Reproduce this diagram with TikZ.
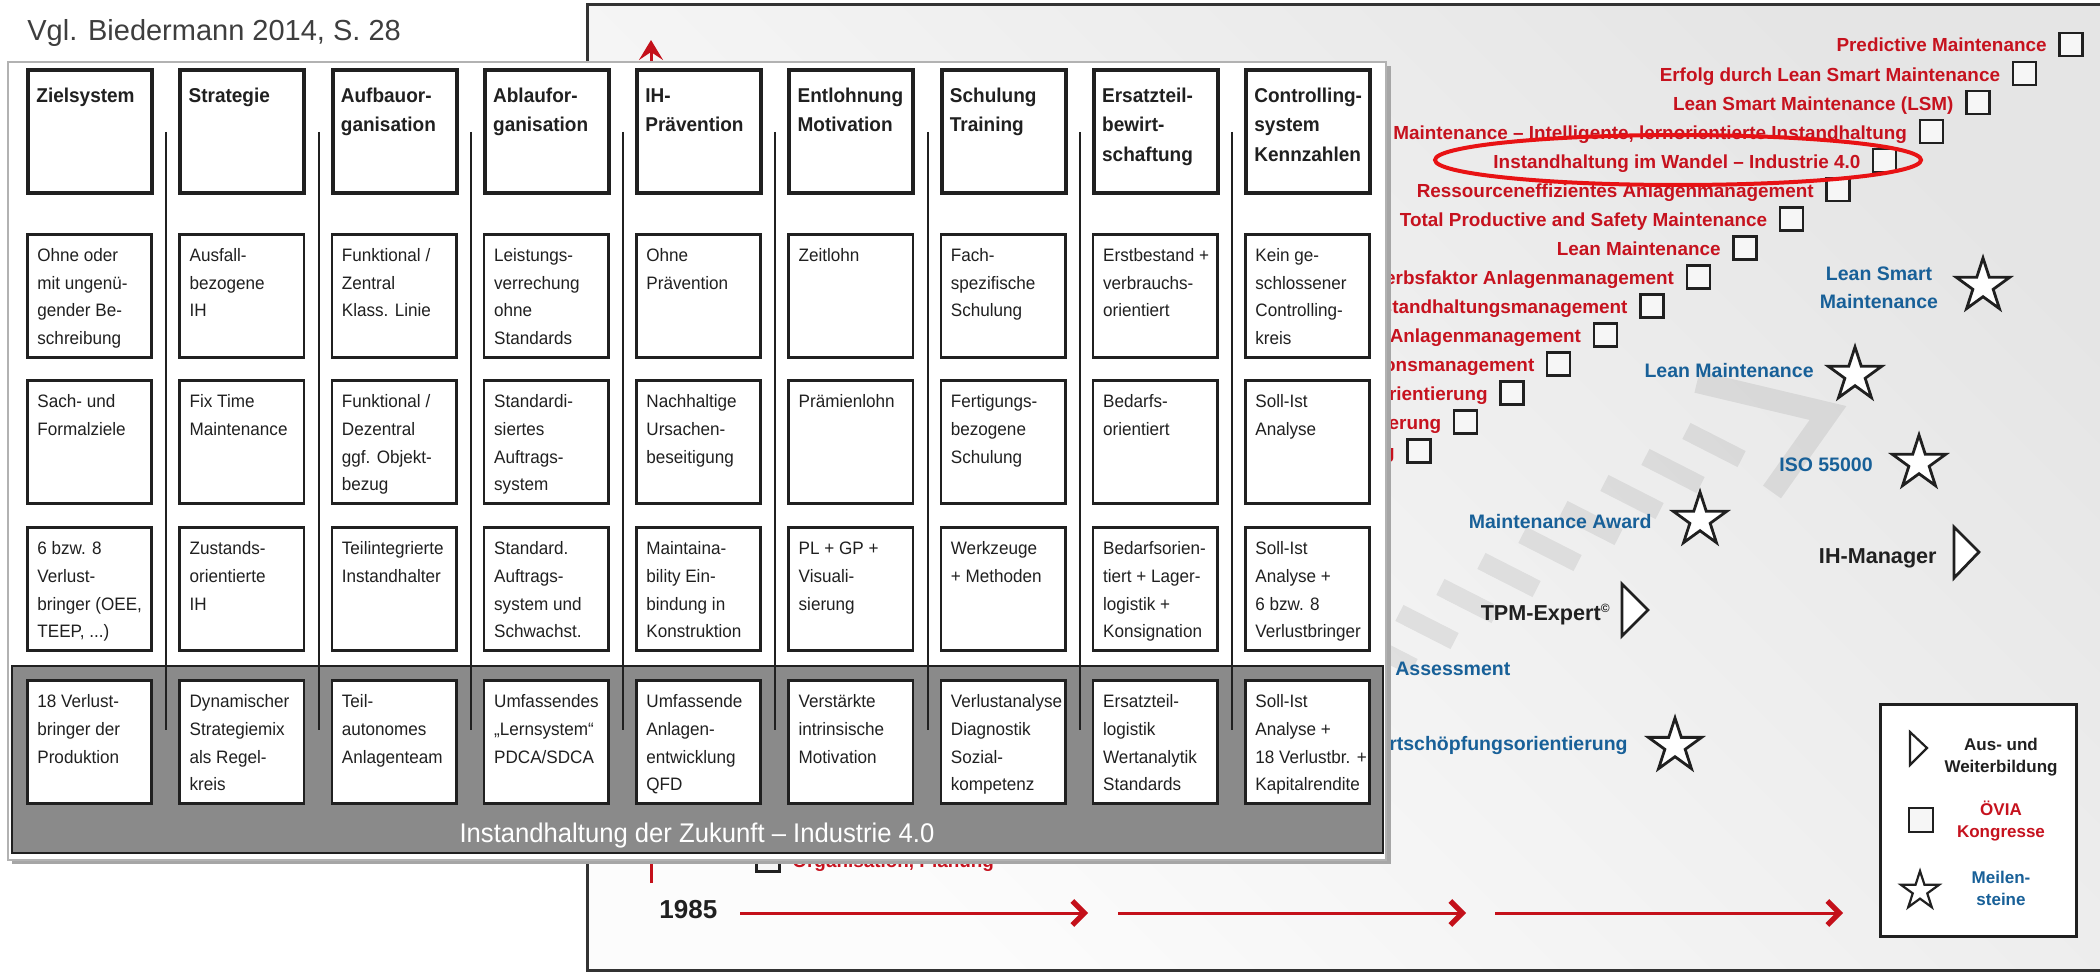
\documentclass[tikz,border=0pt]{standalone}
\usepackage{fontspec}
\setmainfont{Liberation Sans}
\newfontfamily\tabfont[FakeStretch=0.95]{Liberation Sans}
\usetikzlibrary{shapes.geometric,arrows.meta}

\definecolor{ink}{RGB}{32,32,32}
\definecolor{evred}{RGB}{198,18,30}
\definecolor{msblue}{RGB}{24,96,152}
\definecolor{ringred}{RGB}{232,18,20}
\definecolor{axisred}{RGB}{196,16,26}
\definecolor{bandgray}{RGB}{138,138,138}
\definecolor{notegray}{RGB}{62,62,62}

\tikzset{
  hbox/.style={draw=ink, line width=2pt, fill=white, minimum width=62pt, minimum height=61.5pt, inner sep=0pt, anchor=north west},
  bbox/.style={draw=ink, line width=1.3pt, fill=white, minimum width=62.2pt, minimum height=61.7pt, inner sep=0pt, anchor=north west},
  htext/.style={anchor=north west, inner sep=0pt, align=left, text=ink, font=\tabfont\bfseries\fontsize{10}{14.75}\selectfont},
  btext/.style={anchor=north west, inner sep=0pt, align=left, text=ink, font=\tabfont\fontsize{9}{13.9}\selectfont},
  evtext/.style={anchor=base east, inner sep=0pt, text=evred, font=\bfseries\fontsize{9.45}{11}\selectfont},
  congress/.style={draw=ink, line width=1.25pt, fill=gray!7, minimum size=11.5pt, inner sep=0pt},
  mstext/.style={inner sep=0pt, text=msblue, font=\bfseries\fontsize{9.75}{14}\selectfont},
  edtext/.style={inner sep=0pt, text=ink, font=\bfseries\fontsize{10.8}{13}\selectfont},
  milestone/.style={star, star points=5, star point ratio=2.618, draw=ink, line width=1.4pt, fill=white, minimum size=28pt, inner sep=0pt},
  course/.style={draw=ink, line width=1.4pt, fill=white, line join=miter},
  lgtext/.style={anchor=north, inner sep=0pt, align=center, font=\bfseries\fontsize{8.5}{11}\selectfont},
  timearrow/.style={axisred, line width=1.5pt, -{Straight Barb[length=6pt,width=12pt,line width=2.6pt]}},
  wmstripe/.style={rectangle, fill=black, opacity=0.075, minimum width=31pt, minimum height=9pt, inner sep=0pt, rotate=-27},
}

% one column head and one body cell of the maintenance matrix
\newcommand\hcell[2]{%
  \node[hbox] (hb#1) at ({26+152.25*(#1-1)},68) {};
  \node[htext] (ht#1) at ({36+152.25*(#1-1)},86) {\rule{0pt}{8pt}#2};
}
\newcommand\bcell[4]{% column, row, top edge, text
  \node[bbox] (c#1r#2) at ({26+152.25*(#1-1)},#3) {};
  \node[btext] (t#1r#2) at ({37+152.25*(#1-1)},{#3+13}) {\rule{0pt}{7.5pt}#4};
}

\begin{document}
\begin{tikzpicture}[x=0.5pt,y=-0.5pt]
\useasboundingbox (0,0) rectangle (2100,973);
\fill[white] (0,0) rectangle (2100,973);

% ---------------- timeline panel ----------------
\shade[top color=gray!20, bottom color=gray!2, shading angle=-45] (587,5) rectangle (2106,970);

% faint striped arrow in the background
\foreach \k in {-1,...,7}
  \node[wmstripe] (wm\k) at ({1427+41*\k},{627-26*\k}) {};
\draw[black, opacity=0.075, line width=11pt, line join=miter] (1697,382) -- (1828,413) -- (1772,492);

% vertical time axis
\coordinate (ax0) at (651,883);
\coordinate (ax1) at (651,40);
\draw[axisred, line width=1.5pt, -{Stealth[length=10pt,width=12pt,inset=4pt]}] (ax0) -- (ax1);

% congresses (staircase)
\foreach \i/\txt in {0/Predictive Maintenance,
  1/Erfolg durch Lean Smart Maintenance,
  2/Lean Smart Maintenance (LSM),
  3/{Maintenance – Intelligente, lernorientierte Instandhaltung},
  4/Instandhaltung im Wandel – Industrie 4.0,
  5/Ressourceneffizientes Anlagenmanagement,
  6/Total Productive and Safety Maintenance,
  7/Lean Maintenance,
  8/erbsfaktor Anlagenmanagement,
  9/standhaltungsmanagement,
  10/Anlagenmanagement,
  11/onsmanagement,
  12/rientierung,
  13/erung,
  14/g}{
  \pgfmathsetmacro\sx{2059-46.57*\i}
  \pgfmathsetmacro\sy{33+29.05*\i}
  \node[congress] (sq\i) at (\sx+12,\sy+11.5) {};
  \node[evtext] (ev\i) at (\sx-12,\sy+19) {\txt};
}
\node[congress] (sq28) at (768,860) {};
\node[evtext, anchor=base west] (ev28) at (792,867) {Organisation, Planung};

% highlighted congress
\draw[ringred, line width=2pt] (1678,160) ellipse [x radius=243, y radius=25];

% milestones
\node[mstext, align=center, anchor=north] (ms1) at (1879,264) {\rule{0pt}{8pt}Lean Smart\\Maintenance};
\node[milestone] (st1) at (1983,286) {};
\node[mstext, anchor=base east] (ms2) at (1814,378) {Lean Maintenance};
\node[milestone] (st2) at (1855,375) {};
\node[mstext, anchor=base east] (ms3) at (1873,471) {ISO 55000};
\node[milestone] (st3) at (1919,463) {};
\node[mstext, anchor=base east] (ms4) at (1652,528) {Maintenance Award};
\node[milestone] (st4) at (1700,520) {};
\node[mstext, anchor=base west] (ms5) at (1395,675) {Assessment};
\node[mstext, anchor=base east] (ms6) at (1628,750) {ertschöpfungsorientierung};
\node[milestone] (st6) at (1675,746) {};

% education
\node[edtext, anchor=base east] (ed1) at (1937,563) {IH-Manager};
\draw[course] (1954,527) -- (1979,552) -- (1954,578) -- cycle;
\node[edtext, anchor=base east] (ed2) at (1611,620) {TPM-Expert\textsuperscript{\fontsize{6}{6}\selectfont ©}};
\draw[course] (1622,584) -- (1648,610) -- (1622,636) -- cycle;

% years
\coordinate (t1s) at (740,913);  \coordinate (t1e) at (1088,913);
\coordinate (t2s) at (1118,913); \coordinate (t2e) at (1466,913);
\coordinate (t3s) at (1495,913); \coordinate (t3e) at (1843,913);
\draw[timearrow] (t1s) -- (t1e);
\draw[timearrow] (t2s) -- (t2e);
\draw[timearrow] (t3s) -- (t3e);
\node[anchor=base west, inner sep=0pt, text=ink, font=\bfseries\fontsize{13}{15}\selectfont] (y1985) at (659,918) {1985};

% legend
\node[draw=ink, line width=1.5pt, fill=white, anchor=north west, minimum width=98pt, minimum height=116pt, inner sep=0pt] (legend) at (1879,703) {};
\draw[ink, line width=1.1pt, fill=white, line join=miter] (1910,732) -- (1927,748) -- (1910,765) -- cycle;
\node[lgtext, text=ink] (lg1) at (2001,734) {\rule{0pt}{8pt}Aus- und\\Weiterbildung};
\node[congress, minimum size=12pt] (lgsq) at (1921,820) {};
\node[lgtext, text=evred] (lg2) at (2001,799) {\rule{0pt}{8pt}ÖVIA\\Kongresse};
\node[milestone, minimum size=20pt, line width=1.1pt] (lgst) at (1920,891) {};
\node[lgtext, text=msblue] (lg3) at (2001,867) {\rule{0pt}{8pt}Meilen-\\steine};

\draw[black!80, line width=1.5pt] (587,5) rectangle (2106,970);

% ---------------- maintenance matrix ----------------
\fill[black!35] (12,66) rectangle (1391,864);
\filldraw[fill=white, draw=black!30, line width=0.8pt] (8,62) rectangle (1386,860);
\filldraw[fill=bandgray, draw=ink, line width=1.2pt] (12,666) rectangle (1383,853);
\foreach \k in {2,...,9}
  \draw[ink, line width=1pt] ({14+152.25*(\k-1)},132) -- ({14+152.25*(\k-1)},730);

\hcell{1}{Zielsystem}
\hcell{2}{Strategie}
\hcell{3}{Aufbauor-\\ganisation}
\hcell{4}{Ablaufor-\\ganisation}
\hcell{5}{IH-\\Prävention}
\hcell{6}{Entlohnung\\Motivation}
\hcell{7}{Schulung\\Training}
\hcell{8}{Ersatzteil-\\bewirt-\\schaftung}
\hcell{9}{Controlling-\\system\\Kennzahlen}

\bcell{1}{2}{233}{Ohne oder\\mit ungenü-\\gender Be-\\schreibung}
\bcell{2}{2}{233}{Ausfall-\\bezogene\\IH}
\bcell{3}{2}{233}{Funktional /\\Zentral\\Klass. Linie}
\bcell{4}{2}{233}{Leistungs-\\verrechung\\ohne\\Standards}
\bcell{5}{2}{233}{Ohne\\Prävention}
\bcell{6}{2}{233}{Zeitlohn}
\bcell{7}{2}{233}{Fach-\\spezifische\\Schulung}
\bcell{8}{2}{233}{Erstbestand +\\verbrauchs-\\orientiert}
\bcell{9}{2}{233}{Kein ge-\\schlossener\\Controlling-\\kreis}

\bcell{1}{3}{379}{Sach- und\\Formalziele}
\bcell{2}{3}{379}{Fix Time\\Maintenance}
\bcell{3}{3}{379}{Funktional /\\Dezentral\\ggf. Objekt-\\bezug}
\bcell{4}{3}{379}{Standardi-\\siertes\\Auftrags-\\system}
\bcell{5}{3}{379}{Nachhaltige\\Ursachen-\\beseitigung}
\bcell{6}{3}{379}{Prämienlohn}
\bcell{7}{3}{379}{Fertigungs-\\bezogene\\Schulung}
\bcell{8}{3}{379}{Bedarfs-\\orientiert}
\bcell{9}{3}{379}{Soll-Ist\\Analyse}

\bcell{1}{4}{526}{6 bzw. 8\\Verlust-\\bringer (OEE,\\TEEP, ...)}
\bcell{2}{4}{526}{Zustands-\\orientierte\\IH}
\bcell{3}{4}{526}{Teilintegrierte\\Instandhalter}
\bcell{4}{4}{526}{Standard.\\Auftrags-\\system und\\Schwachst.}
\bcell{5}{4}{526}{Maintaina-\\bility Ein-\\bindung in\\Konstruktion}
\bcell{6}{4}{526}{PL + GP +\\Visuali-\\sierung}
\bcell{7}{4}{526}{Werkzeuge\\+ Methoden}
\bcell{8}{4}{526}{Bedarfsorien-\\tiert + Lager-\\logistik +\\Konsignation}
\bcell{9}{4}{526}{Soll-Ist\\Analyse +\\6 bzw. 8\\Verlustbringer}

\bcell{1}{5}{679}{18 Verlust-\\bringer der\\Produktion}
\bcell{2}{5}{679}{Dynamischer\\Strategiemix\\als Regel-\\kreis}
\bcell{3}{5}{679}{Teil-\\autonomes\\Anlagenteam}
\bcell{4}{5}{679}{Umfassendes\\„Lernsystem“\\PDCA/SDCA}
\bcell{5}{5}{679}{Umfassende\\Anlagen-\\entwicklung\\QFD}
\bcell{6}{5}{679}{Verstärkte\\intrinsische\\Motivation}
\bcell{7}{5}{679}{Verlustanalyse\\Diagnostik\\Sozial-\\kompetenz}
\bcell{8}{5}{679}{Ersatzteil-\\logistik\\Wertanalytik\\Standards}
\bcell{9}{5}{679}{Soll-Ist\\Analyse +\\18 Verlustbr. +\\Kapitalrendite}

\node[anchor=base, inner sep=0pt, text=white, font=\tabfont\fontsize{13.5}{16}\selectfont] (future) at (697,842) {Instandhaltung der Zukunft – Industrie 4.0};

% source note
\node[anchor=base west, inner sep=0pt, text=notegray, font=\fontsize{14.5}{17}\selectfont] (source) at (27,41) {Vgl. Biedermann 2014, S. 28};
\end{tikzpicture}
\end{document}
